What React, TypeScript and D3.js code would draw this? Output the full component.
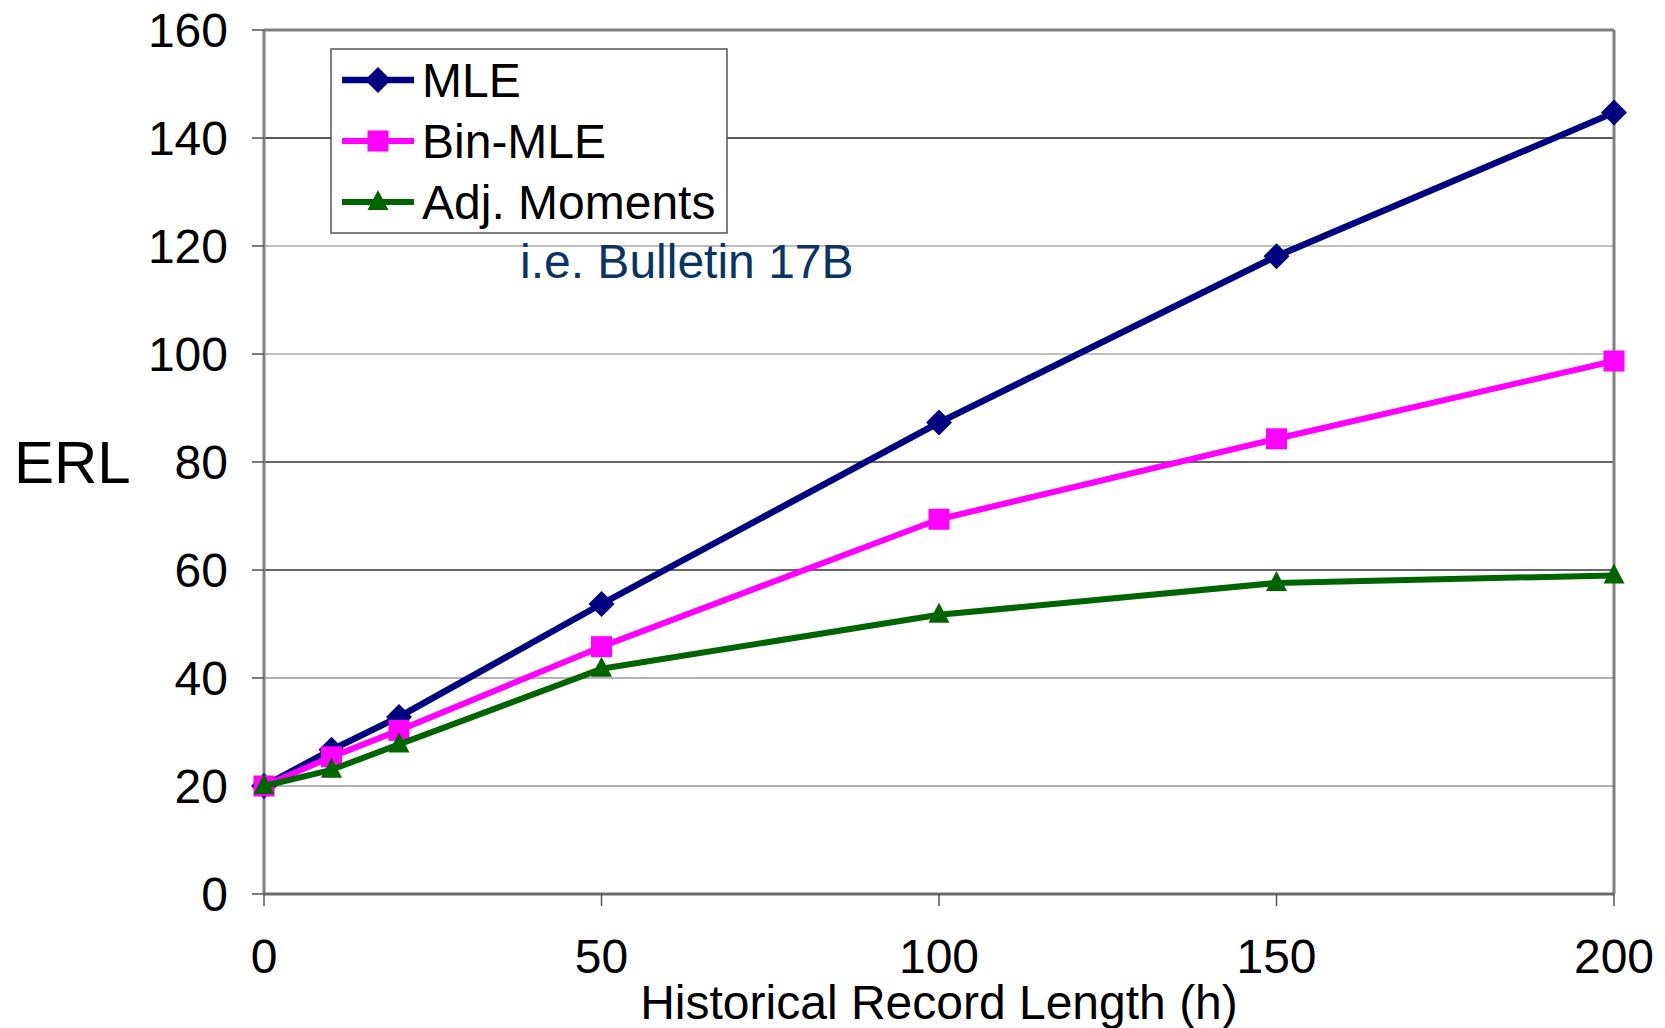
import React from "react";
import * as d3 from "d3";

const xValues = [0, 10, 20, 50, 100, 150, 200];
const mleValues = [20, 26.7, 32.8, 53.7, 87.3, 118.1, 144.7];
const binMleValues = [20, 25.4, 30.3, 45.8, 69.4, 84.3, 98.7];
const adjMomentsValues = [20, 23, 27.7, 41.7, 51.7, 57.6, 59];
const yTicks = [0, 20, 40, 60, 80, 100, 120, 140, 160];
const xTicks = [0, 50, 100, 150, 200];
const seriesNames = ["MLE", "Bin-MLE", "Adj. Moments"];

const W = 1665;
const H = 1028;
const FONT = "'Liberation Sans', Arial, sans-serif";

const gridColors: Record<number, string> = {
  20: "#9a9a9a",
  40: "#9a9a9a",
  60: "#333333",
  80: "#333333",
  100: "#a8a8a8",
  120: "#a8a8a8",
  140: "#222222",
};

export default function App() {
  const x = d3.scaleLinear().domain([0, 200]).range([264, 1614]);
  const y = d3.scaleLinear().domain([0, 160]).range([894, 30]);

  const series = [
    { name: seriesNames[0], values: mleValues, color: "#000080", marker: "diamond", width: 6.5 },
    { name: seriesNames[1], values: binMleValues, color: "#FF00FF", marker: "square", width: 6 },
    { name: seriesNames[2], values: adjMomentsValues, color: "#006400", marker: "triangle", width: 6 },
  ];

  const line = d3
    .line<[number, number]>()
    .x((d) => x(d[0]))
    .y((d) => y(d[1]));

  const marker = (type: string, cx: number, cy: number, color: string, key: string) => {
    if (type === "diamond") {
      const r = 13;
      return (
        <path
          key={key}
          d={`M${cx},${cy - r}L${cx + r},${cy}L${cx},${cy + r}L${cx - r},${cy}Z`}
          fill={color}
        />
      );
    }
    if (type === "square") {
      const s = 21;
      return <rect key={key} x={cx - s / 2} y={cy - s / 2} width={s} height={s} fill={color} />;
    }
    const h = 20;
    const b = 21;
    return (
      <path
        key={key}
        d={`M${cx},${cy - h * 0.6}L${cx + b / 2},${cy + h * 0.4}L${cx - b / 2},${cy + h * 0.4}Z`}
        fill={color}
      />
    );
  };

  const legendRows = [80, 141, 202];

  return (
    <svg
      width={W}
      height={H}
      style={{ position: "absolute", left: 0, top: 0, background: "#fff" }}
      fontFamily={FONT}
    >
      <rect x={0} y={0} width={W} height={H} fill="#fff" />
      {yTicks
        .filter((t) => t > 0 && t < 160)
        .map((t) => (
          <line
            key={"g" + t}
            x1={x(0)}
            x2={x(200)}
            y1={y(t)}
            y2={y(t)}
            stroke={gridColors[t] || "#888"}
            strokeWidth={1.5}
          />
        ))}
      <line x1={x(0)} x2={x(200)} y1={y(160)} y2={y(160)} stroke="#808080" strokeWidth={3} />
      <line x1={x(200)} x2={x(200)} y1={y(160)} y2={y(0)} stroke="#808080" strokeWidth={3} />
      <line x1={x(0)} x2={x(0)} y1={y(160)} y2={y(0)} stroke="#808080" strokeWidth={3} />
      <line x1={x(0)} x2={x(200)} y1={y(0)} y2={y(0)} stroke="#6a6a6a" strokeWidth={3} />
      {yTicks.map((t) => (
        <g key={"yt" + t}>
          <line x1={x(0) - 12} x2={x(0)} y1={y(t)} y2={y(t)} stroke="#555" strokeWidth={1.5} />
          <text x={228} y={y(t) + 17} textAnchor="end" fontSize={48} fill="#000">
            {t}
          </text>
        </g>
      ))}
      {xTicks.map((t) => (
        <g key={"xt" + t}>
          <line x1={x(t)} x2={x(t)} y1={y(0)} y2={y(0) + 12} stroke="#555" strokeWidth={1.5} />
          <text x={x(t)} y={973} textAnchor="middle" fontSize={48} fill="#000">
            {t}
          </text>
        </g>
      ))}
      <text x={939} y={1019} textAnchor="middle" fontSize={48} fill="#000">
        Historical Record Length (h)
      </text>
      <text x={14} y={483} fontSize={60} fill="#000">
        ERL
      </text>
      {series.map((s) => (
        <g key={s.name}>
          <path
            d={line(xValues.map((xv, i) => [xv, s.values[i]]) as [number, number][]) || ""}
            fill="none"
            stroke={s.color}
            strokeWidth={s.width}
            strokeLinejoin="round"
          />
          {xValues.map((xv, i) => marker(s.marker, x(xv), y(s.values[i]), s.color, s.name + i))}
        </g>
      ))}
      <rect x={331} y={49} width={396} height={184} fill="#fff" stroke="#555" strokeWidth={1.5} />
      {series.map((s, i) => (
        <g key={"lg" + i}>
          <line x1={342} x2={414} y1={legendRows[i]} y2={legendRows[i]} stroke={s.color} strokeWidth={s.width} />
          {marker(s.marker, 378, legendRows[i], s.color, "lm" + i)}
          <text x={422} y={legendRows[i] + 17} fontSize={48} fill="#000">
            {s.name}
          </text>
        </g>
      ))}
      <text x={520} y={278} fontSize={48} fill="#0a3366">
        i.e. Bulletin 17B
      </text>
    </svg>
  );
}
